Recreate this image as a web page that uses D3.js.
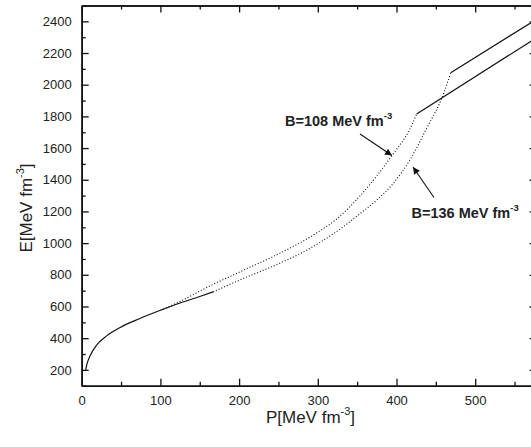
<!DOCTYPE html>
<html><head><meta charset="utf-8">
<script src="https://cdn.jsdelivr.net/npm/d3@7"></script>
<style>body{margin:0;background:#fff}svg{display:block}</style>
</head><body><svg id="chart" width="531" height="447"></svg>
<script>
// Hadronic branch shared by both bag constants (solid)
const hadronP = [5, 7.5, 10.5, 19, 32, 49, 74, 100];
const hadronE = [200, 250, 288, 357, 416, 468, 524, 576];
// Hadronic branch continued for B = 136 (solid)
const hadron136P = [100, 125, 150, 167];
const hadron136E = [576, 622, 663, 692];
// Mixed phase (dotted)
const mixed108P = [100, 125, 163, 205, 248, 282, 303, 324, 354, 375, 396, 417, 425.6];
const mixed108E = [576, 632, 730, 828, 927, 1015, 1078, 1152, 1300, 1425, 1565, 1720, 1815];
const mixed136P = [167, 205, 248, 282, 303, 330, 354, 375, 396, 417, 438, 460, 468.9];
const mixed136E = [692, 776, 865, 945, 1005, 1095, 1188, 1272, 1378, 1525, 1722, 1946, 2076];
// Quark phase (solid)
const quark108P = [425.6, 578];
const quark108E = [1815, 2297];
const quark136P = [468.9, 578];
const quark136E = [2076, 2413];
// Axis ticks
const xMajor = [0, 100, 200, 300, 400, 500];
const xMinor = [50, 150, 250, 350, 450, 550];
const yMajor = [200, 400, 600, 800, 1000, 1200, 1400, 1600, 1800, 2000, 2200, 2400];
const yMinor = [100, 300, 500, 700, 900, 1100, 1300, 1500, 1700, 1900, 2100, 2300, 2500];

const svg = d3.select('#chart');
const plotLeft = 81.7, plotTop = 5.5, plotBottom = 385.7;
const x = d3.scaleLinear().domain([0, 578]).range([plotLeft, plotLeft + 578 * 0.787]);
const y = d3.scaleLinear().domain([100, 2500]).range([plotBottom, plotTop]);
const plotRight = x(578);
const font = 'Arial, "Liberation Sans", Helvetica, sans-serif';
const fmt = d3.format('d');

function styleAxis(g, labels) {
  g.select('.domain').attr('stroke', '#111').attr('stroke-width', 1.6);
  g.selectAll('.tick line').attr('stroke', '#111').attr('stroke-width', 1.3);
  if (labels) g.selectAll('.tick text').attr('font-family', font).attr('font-size', 13).attr('fill', '#222');
  else g.selectAll('.tick text').remove();
}

// bottom axis
svg.append('g').attr('transform', `translate(0,${plotBottom})`)
  .call(d3.axisBottom(x).tickValues(xMinor).tickSizeInner(-4).tickSizeOuter(0))
  .call(g => styleAxis(g, false));
svg.append('g').attr('transform', `translate(0,${plotBottom})`)
  .call(d3.axisBottom(x).tickValues(xMajor).tickFormat(fmt).tickSizeInner(-7).tickSizeOuter(0).tickPadding(10))
  .call(g => styleAxis(g, true));
// top axis
svg.append('g').attr('transform', `translate(0,${plotTop})`)
  .call(d3.axisTop(x).tickValues(xMinor).tickSizeInner(-4).tickSizeOuter(0))
  .call(g => styleAxis(g, false));
svg.append('g').attr('transform', `translate(0,${plotTop})`)
  .call(d3.axisTop(x).tickValues(xMajor).tickSizeInner(-7).tickSizeOuter(0))
  .call(g => styleAxis(g, false));
// left axis
svg.append('g').attr('transform', `translate(${plotLeft},0)`)
  .call(d3.axisLeft(y).tickValues(yMinor).tickSizeInner(-4).tickSizeOuter(0))
  .call(g => styleAxis(g, false));
svg.append('g').attr('transform', `translate(${plotLeft},0)`)
  .call(d3.axisLeft(y).tickValues(yMajor).tickFormat(fmt).tickSizeInner(-7).tickSizeOuter(0).tickPadding(10))
  .call(g => styleAxis(g, true));
// right axis
svg.append('g').attr('transform', `translate(${plotRight},0)`)
  .call(d3.axisRight(y).tickValues(yMinor).tickSizeInner(-4).tickSizeOuter(0))
  .call(g => styleAxis(g, false));
svg.append('g').attr('transform', `translate(${plotRight},0)`)
  .call(d3.axisRight(y).tickValues(yMajor).tickSizeInner(-7).tickSizeOuter(0))
  .call(g => styleAxis(g, false));

// curves
const line = d3.line().x(d => x(d[0])).y(d => y(d[1])).curve(d3.curveMonotoneX);
const pts = (P, E) => P.map((p, i) => [p, E[i]]);
function draw(P, E, dotted) {
  svg.append('path').datum(pts(P, E)).attr('d', line)
    .attr('fill', 'none').attr('stroke', '#111')
    .attr('stroke-width', dotted ? 1.1 : 1.2)
    .attr('stroke-dasharray', dotted ? '1,2' : null);
}
draw(hadronP, hadronE, false);
draw(hadron136P, hadron136E, false);
draw(mixed108P, mixed108E, true);
draw(mixed136P, mixed136E, true);
draw(quark108P, quark108E, false);
draw(quark136P, quark136E, false);

// annotations
const defs = svg.append('defs');
defs.append('marker').attr('id', 'arrow').attr('viewBox', '0 0 10 10')
  .attr('refX', 10).attr('refY', 5).attr('markerWidth', 9).attr('markerHeight', 7)
  .attr('markerUnits', 'userSpaceOnUse').attr('orient', 'auto')
  .append('path').attr('d', 'M0,0L10,5L0,10z').attr('fill', '#111');

svg.append('line').attr('x1', 360).attr('y1', 134).attr('x2', 392).attr('y2', 155.5)
  .attr('stroke', '#111').attr('stroke-width', 1.1).attr('marker-end', 'url(#arrow)');
svg.append('line').attr('x1', 434).attr('y1', 197.5).attr('x2', 413).attr('y2', 167)
  .attr('stroke', '#111').attr('stroke-width', 1.1).attr('marker-end', 'url(#arrow)');

function bagLabel(tx, ty, txt) {
  const t = svg.append('text').attr('x', tx).attr('y', ty)
    .attr('font-family', font).attr('font-size', 14.5).attr('font-weight', 'bold').attr('fill', '#222');
  t.append('tspan').text(txt);
  t.append('tspan').attr('dy', -7).attr('font-size', 9.5).text('-3');
}
bagLabel(285, 126, 'B=108 MeV fm');
bagLabel(411.5, 217.5, 'B=136 MeV fm');

// axis titles
const xt = svg.append('text').attr('x', 310.5).attr('y', 422.5).attr('text-anchor', 'middle')
  .attr('font-family', font).attr('font-size', 17).attr('fill', '#222');
xt.append('tspan').text('P[MeV fm');
xt.append('tspan').attr('dy', -8).attr('font-size', 11).text('-3');
xt.append('tspan').attr('dy', 8).text(']');

const yt = svg.append('text').attr('transform', 'translate(31.5,208) rotate(-90)').attr('text-anchor', 'middle')
  .attr('font-family', font).attr('font-size', 17).attr('fill', '#222');
yt.append('tspan').text('E[MeV fm');
yt.append('tspan').attr('dy', -8).attr('font-size', 11).text('-3');
yt.append('tspan').attr('dy', 8).text(']');
</script></body></html>
